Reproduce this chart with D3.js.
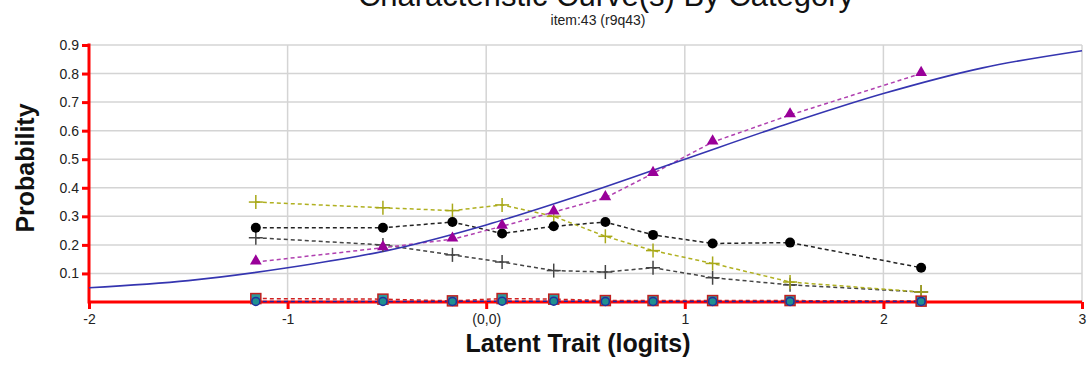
<!DOCTYPE html>
<html>
<head>
<meta charset="utf-8">
<script src="https://cdn.jsdelivr.net/npm/d3@7"></script>
<style>
  body { margin: 0; background: #fff; }
  svg { display: block; font-family: Arial, 'Liberation Sans', sans-serif; }
</style>
</head>
<body>
<div></div>
<script>
const WIDTH = 1089;
const HEIGHT = 365;
const LEFT = 89, RIGHT = 1082, TOP = 45, BOTTOM = 302;

// observed category points
const thetaObs = [-1.16, -0.52, -0.17, 0.08, 0.34, 0.60, 0.84, 1.14, 1.53, 2.19];
const catPlusOlive = [0.35, 0.33, 0.32, 0.34, 0.30, 0.23, 0.18, 0.135, 0.07, 0.035];
const catCircle = [0.26, 0.26, 0.28, 0.24, 0.265, 0.28, 0.235, 0.205, 0.208, 0.12];
const catPlusGrey = [0.225, 0.20, 0.165, 0.14, 0.11, 0.105, 0.12, 0.085, 0.06, 0.035];
const catTriangle = [0.14, 0.19, 0.22, 0.265, 0.315, 0.365, 0.45, 0.56, 0.655, 0.80];
const catSquare = [0.012, 0.01, 0.004, 0.012, 0.01, 0.005, 0.005, 0.005, 0.005, 0.003];
const catDot = [0.002, 0.002, 0.002, 0.003, 0.003, 0.002, 0.002, 0.002, 0.002, 0.002];
// model curve
const modelX = [-2, -1.5, -1, -0.5, 0, 0.5, 1, 1.5, 2, 2.5, 3];
const modelY = [0.05, 0.075, 0.12, 0.18, 0.27, 0.38, 0.5, 0.62, 0.73, 0.82, 0.88];
// ticks
const xTicks = [-2, -1, 0, 1, 2, 3];
const xTickLabels = ['-2', '-1', '(0,0)', '1', '2', '3'];
const yTicks = [0.1, 0.2, 0.3, 0.4, 0.5, 0.6, 0.7, 0.8, 0.9];

const x = d3.scaleLinear().domain([-2, 3]).range([LEFT, RIGHT]);
const y = d3.scaleLinear().domain([0, 0.9]).range([BOTTOM, TOP]);

const svg = d3.select('div').append('svg')
    .attr('width', WIDTH)
    .attr('height', HEIGHT);

// titles (the main title sits partly above the top edge, as in the original)
svg.append('text')
    .attr('x', 606).attr('y', 6)
    .attr('text-anchor', 'middle')
    .attr('font-size', 31)
    .attr('fill', '#111')
    .text('Characteristic Curve(s) By Category');
svg.append('text')
    .attr('x', 598).attr('y', 25)
    .attr('text-anchor', 'middle')
    .attr('font-size', 14)
    .attr('fill', '#222')
    .text('item:43 (r9q43)');

// grid
const grid = svg.append('g').attr('stroke', '#d4d4d4').attr('stroke-width', 1.5);
grid.selectAll('.gy').data(yTicks).enter().append('line')
    .attr('x1', LEFT).attr('x2', RIGHT)
    .attr('y1', d => y(d)).attr('y2', d => y(d));
grid.selectAll('.gx').data(xTicks.slice(1)).enter().append('line')
    .attr('x1', d => x(d)).attr('x2', d => x(d))
    .attr('y1', TOP).attr('y2', BOTTOM);

// axes
const yAxis = d3.axisLeft(y).tickValues(yTicks).tickSize(7).tickFormat(d3.format('.1f'));
const yAxisG = svg.append('g')
    .attr('transform', 'translate(' + LEFT + ',0)')
    .call(yAxis);
const xAxis = d3.axisBottom(x).tickValues(xTicks).tickSize(7).tickFormat((d, i) => xTickLabels[i]);
const xAxisG = svg.append('g')
    .attr('transform', 'translate(0,' + BOTTOM + ')')
    .call(xAxis);
[yAxisG, xAxisG].forEach(g => {
    g.select('.domain').remove();
    g.selectAll('.tick line').attr('stroke', '#ff0000').attr('stroke-width', 3);
    g.selectAll('.tick text').attr('font-size', 14).attr('fill', '#222')
        .attr('font-family', "Arial, 'Liberation Sans', sans-serif");
});
yAxisG.selectAll('.tick text').attr('x', -10);
xAxisG.selectAll('.tick text').attr('y', 12);

// series lines
const pts = vals => thetaObs.map((t, i) => [t, vals[i]]);
const line = d3.line().x(d => x(d[0])).y(d => y(d[1]));
const series = [
    { vals: catSquare, color: '#d02020', dash: '4,3' },
    { vals: catDot, color: '#2020a0', dash: '4,3' },
    { vals: catPlusGrey, color: '#444444', dash: '4,3' },
    { vals: catCircle, color: '#222222', dash: '4,3' },
    { vals: catPlusOlive, color: '#b0b020', dash: '4,3' },
    { vals: catTriangle, color: '#b040b0', dash: '4,3' }
];

// axis lines in red
svg.append('line')
    .attr('x1', LEFT).attr('x2', RIGHT)
    .attr('y1', BOTTOM).attr('y2', BOTTOM)
    .attr('stroke', '#ff0000').attr('stroke-width', 3);
svg.append('line')
    .attr('x1', LEFT).attr('x2', LEFT)
    .attr('y1', TOP - 1.5).attr('y2', BOTTOM + 1.5)
    .attr('stroke', '#ff0000').attr('stroke-width', 3);

series.forEach(s => {
    svg.append('path')
        .attr('d', line(pts(s.vals)))
        .attr('fill', 'none')
        .attr('stroke', s.color)
        .attr('stroke-width', 1.5)
        .attr('stroke-dasharray', s.dash);
});

// model curve
svg.append('path')
    .attr('d', d3.line().x(d => x(d[0])).y(d => y(d[1])).curve(d3.curveMonotoneX)(modelX.map((t, i) => [t, modelY[i]])))
    .attr('fill', 'none')
    .attr('stroke', '#3535b0')
    .attr('stroke-width', 1.6);

// markers
const plus = (vals, color) => {
    const g = svg.append('g').attr('stroke', color).attr('stroke-width', 1.5);
    pts(vals).forEach(p => {
        g.append('line').attr('x1', x(p[0]) - 7).attr('x2', x(p[0]) + 7)
            .attr('y1', y(p[1])).attr('y2', y(p[1]));
        g.append('line').attr('x1', x(p[0])).attr('x2', x(p[0]))
            .attr('y1', y(p[1]) - 7).attr('y2', y(p[1]) + 7);
    });
};
plus(catPlusGrey, '#444444');
plus(catPlusOlive, '#a8a818');

svg.append('g').selectAll('circle').data(pts(catCircle)).enter().append('circle')
    .attr('cx', d => x(d[0])).attr('cy', d => y(d[1])).attr('r', 5)
    .attr('fill', '#000');

svg.append('g').selectAll('path').data(pts(catTriangle)).enter().append('path')
    .attr('d', d3.symbol(d3.symbolTriangle, 60))
    .attr('transform', d => 'translate(' + x(d[0]) + ',' + (y(d[1]) - 1) + ')')
    .attr('fill', '#990099');

svg.append('g').selectAll('rect').data(pts(catSquare)).enter().append('rect')
    .attr('x', d => x(d[0]) - 5).attr('y', d => y(d[1]) - 5)
    .attr('width', 10).attr('height', 10)
    .attr('fill', '#2a9a9a').attr('stroke', '#c02020').attr('stroke-width', 1.5);

svg.append('g').selectAll('circle').data(pts(catDot)).enter().append('circle')
    .attr('cx', d => x(d[0])).attr('cy', d => y(d[1])).attr('r', 4)
    .attr('fill', '#1f9090').attr('stroke', '#2030a0').attr('stroke-width', 1.5);

// axis titles
svg.append('text')
    .attr('x', 578).attr('y', 352)
    .attr('text-anchor', 'middle')
    .attr('font-size', 25).attr('font-weight', 'bold')
    .attr('fill', '#111')
    .text('Latent Trait (logits)');
svg.append('text')
    .attr('transform', 'translate(34,168) rotate(-90)')
    .attr('text-anchor', 'middle')
    .attr('font-size', 25).attr('font-weight', 'bold')
    .attr('fill', '#111')
    .text('Probability');
</script>
</body>
</html>
